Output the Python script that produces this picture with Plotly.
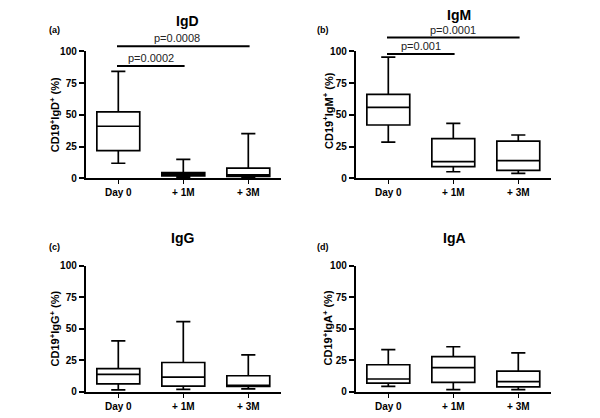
import plotly.graph_objects as go

W, H = 600, 418
FONT = "Liberation Sans, Arial, Helvetica, sans-serif"

categories = ["Day 0", "+ 1M", "+ 3M"]
panel_titles = ["IgD", "IgM", "IgG", "IgA"]
panel_labels = ["(a)", "(b)", "(c)", "(d)"]
y_titles = ["CD19<sup>+</sup>IgD<sup>+</sup> (%)", "CD19<sup>+</sup>IgM<sup>+</sup> (%)",
            "CD19<sup>+</sup>IgG<sup>+</sup> (%)", "CD19<sup>+</sup>IgA<sup>+</sup> (%)"]
y_ticks = [0, 25, 50, 75, 100]

# box statistics per panel: lower whisker, Q1, median, Q3, upper whisker
igd_low = [11.8, 0.5, 0.8]
igd_q1 = [21.8, 1.9, 1.5]
igd_med = [41.0, 3.3, 2.6]
igd_q3 = [52.3, 4.5, 7.9]
igd_high = [84.3, 14.9, 35.1]

igm_low = [28.5, 5.1, 3.8]
igm_q1 = [42.0, 9.2, 6.2]
igm_med = [55.9, 13.1, 13.8]
igm_q3 = [66.1, 31.3, 29.2]
igm_high = [95.5, 43.3, 34.1]

igg_low = [1.3, 1.8, 2.1]
igg_q1 = [6.2, 4.4, 4.1]
igg_med = [13.6, 11.5, 4.7]
igg_q3 = [18.2, 23.1, 12.6]
igg_high = [40.3, 55.6, 29.2]

iga_low = [4.1, 1.5, 1.5]
iga_q1 = [6.7, 7.4, 3.8]
iga_med = [10.0, 19.0, 7.9]
iga_q3 = [21.3, 27.7, 16.2]
iga_high = [33.3, 35.6, 30.8]

stats = [
    (igd_low, igd_q1, igd_med, igd_q3, igd_high),
    (igm_low, igm_q1, igm_med, igm_q3, igm_high),
    (igg_low, igg_q1, igg_med, igg_q3, igg_high),
    (iga_low, iga_q1, iga_med, iga_q3, iga_high),
]

# significance comparisons: panel, group a, group b, p text
p_panel = [0, 0, 1, 1]
p_from = [0, 0, 0, 0]
p_to = [1, 2, 1, 2]
p_text = ["p=0.0002", "p=0.0008", "p=0.001", "p=0.0001"]

# ---- layout geometry (pixels) ----
x_dom_px = [(85.8, 280.8), (355.8, 550.8), (85.8, 280.8), (355.8, 550.8)]
y_dom_px = [(177.3, 46.8), (177.3, 46.8), (397.0, 267.3), (397.0, 267.3)]
bar_heights = [88.6, 104.2, 98.0, 111.0]   # bracket heights in axis units
p_text_x = [0.5, 0.9, 0.5, 1.0]
title_px = [(187, 15.5), (459, 9.5), (182, 238.5), (454, 238.5)]
label_px = [(55, 25), (323, 25), (55, 248), (323, 248)]
ytitle_px = [(55, 111.5), (328, 108), (55, 332), (328, 332)]


def px_x(v):
    return v / W


def px_y(v):
    return 1 - v / H


fig = go.Figure()
layout = dict(
    width=W, height=H, margin=dict(l=0, r=0, t=0, b=0),
    paper_bgcolor="white", plot_bgcolor="white", showlegend=False,
    font=dict(family=FONT, color="black", size=10),
)
annotations = []
shapes = []

for i in range(4):
    sfx = "" if i == 0 else str(i + 1)
    low, q1, med, q3, high = stats[i]
    fig.add_trace(go.Box(
        x=[0, 1, 2], lowerfence=low, q1=q1, median=med, q3=q3, upperfence=high,
        xaxis="x" + sfx, yaxis="y" + sfx,
        fillcolor="white", line=dict(color="black", width=1.7),
        width=0.66, whiskerwidth=0.33, boxpoints=False, hoverinfo="skip",
    ))
    layout["xaxis" + sfx] = dict(
        domain=[px_x(x_dom_px[i][0]), px_x(x_dom_px[i][1])],
        anchor="y" + sfx, range=[-0.5, 2.5],
        tickvals=[0, 1, 2], ticktext=categories,
        showline=True, linecolor="black", linewidth=2,
        ticks="outside", ticklen=4, tickwidth=1.5, tickcolor="black",
        showgrid=False, zeroline=False,
        tickfont=dict(family=FONT, size=10, color="black", weight="bold"),
    )
    layout["yaxis" + sfx] = dict(
        domain=[px_y(y_dom_px[i][0]), px_y(y_dom_px[i][1])],
        anchor="x" + sfx, range=[0, 100],
        tickvals=y_ticks, ticktext=[str(t) for t in y_ticks],
        showline=True, linecolor="black", linewidth=2,
        ticks="outside", ticklen=5, tickwidth=2, tickcolor="black",
        showgrid=False, zeroline=False,
        tickfont=dict(family=FONT, size=10, color="black", weight="bold"),
    )
    annotations.append(dict(
        text=panel_titles[i], x=px_x(title_px[i][0]), y=px_y(title_px[i][1]),
        xref="paper", yref="paper", xanchor="center", yanchor="middle",
        showarrow=False, font=dict(family=FONT, size=14, color="black", weight="bold")))
    annotations.append(dict(
        text=panel_labels[i], x=px_x(label_px[i][0]), y=px_y(label_px[i][1]),
        xref="paper", yref="paper", xanchor="center", yanchor="middle",
        showarrow=False, font=dict(family=FONT, size=9, color="black", weight="bold")))
    annotations.append(dict(
        text=y_titles[i], x=px_x(ytitle_px[i][0]), y=px_y(ytitle_px[i][1]),
        xref="paper", yref="paper", xanchor="center", yanchor="middle", textangle=-90,
        showarrow=False, font=dict(family=FONT, size=11, color="black", weight="bold")))

for k in range(len(p_text)):
    i = p_panel[k]
    sfx = "" if i == 0 else str(i + 1)
    frac = bar_heights[k] / 100.0
    shapes.append(dict(
        type="line", xref="x" + sfx, yref="y" + sfx + " domain",
        x0=p_from[k] - 0.02, x1=p_to[k] + 0.02, y0=frac, y1=frac,
        line=dict(color="black", width=2)))
    annotations.append(dict(
        text=p_text[k], xref="x" + sfx, yref="y" + sfx + " domain",
        x=p_text_x[k], y=frac, xanchor="center", yanchor="bottom",
        showarrow=False, font=dict(family=FONT, size=11, color="#222222")))

layout["annotations"] = annotations
layout["shapes"] = shapes
fig.update_layout(**layout)
fig.write_html(
    "out.html",
    config={"displayModeBar": False, "staticPlot": True},
    post_script="document.body.style.margin='0';document.body.style.padding='0';",
)
